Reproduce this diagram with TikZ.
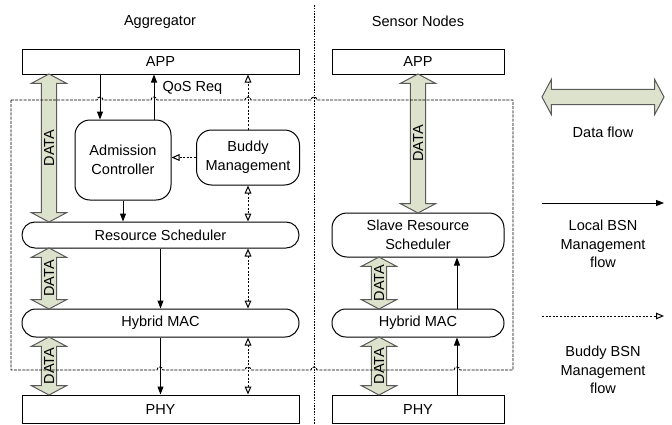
\documentclass[tikz,border=0pt]{standalone}
\usepackage{fontspec}
\setmainfont{Liberation Sans}
\usetikzlibrary{shapes.arrows,arrows.meta}

\definecolor{dataFill}{RGB}{221,226,204}
\definecolor{dataLine}{RGB}{90,90,90}
\newcommand{\lbl}{\fontsize{10.9pt}{14pt}\selectfont}

\tikzset{every picture/.style={line width=0.75pt}}
\tikzset{
  txt/.style={inner sep=0.75pt, font=\lbl, align=center},
  layer/.style={draw, rectangle, inner sep=0pt, font=\lbl, minimum height=19.5pt},
  module/.style={draw, rounded corners=11.25pt, inner sep=0pt, align=center, font=\lbl},
  pill/.style={draw, rounded corners=#1, inner sep=0pt, align=center, font=\lbl},
  dataarrow/.style={shape=double arrow, draw=dataLine, fill=dataFill, inner sep=0pt,
    inner ysep=5.4pt, minimum width=0pt, double arrow head extend=7.3pt,
    double arrow tip angle=124},
  datatext/.style={inner sep=0pt, font=\lbl, rotate=90},
  local/.style={-{Triangle[length=6pt,width=4.5pt]}},
  buddy/.style={dash pattern={on 1.5pt off 1.2pt}, -{Triangle[open,length=6pt,width=5pt]}},
  buddyboth/.style={dash pattern={on 1.5pt off 1.2pt}, {Triangle[open,length=6pt,width=5pt]}-{Triangle[open,length=6pt,width=5pt]}},
  divider/.style={dash pattern={on 1.2pt off 0.9pt}, line width=0.7pt},
  region/.style={dash pattern={on 2.25pt off 0.9pt}, line width=0.7pt}
}

\begin{document}
\begin{tikzpicture}[x=0.75pt,y=0.75pt,yscale=-1,xscale=1]
\useasboundingbox (0,0) rectangle (672,425);

% Titles
\node[txt] (aggTitle) at (160,22) {Aggregator};
\node[txt] (snTitle) at (418,21) {Sensor Nodes};

% Divider
\draw[divider] (314,5) -- (314,425);

% Aggregator stack
\node[layer, minimum width=207.75pt, minimum height=18.75pt] (aApp) at (160.5,61.5) {APP};
\node[module, minimum width=72pt, minimum height=60pt] (aAdm) at (123,160) {Admission\\Controller};
\node[module, minimum width=77.25pt, minimum height=41.25pt] (aBuddy) at (248,157.5) {Buddy\\Management};
\node[pill=9.7pt, minimum width=207.75pt, minimum height=19.5pt] (aRes) at (160.5,235) {Resource Scheduler};
\node[pill=10.4pt, minimum width=207.75pt, minimum height=21pt] (aMac) at (160.5,323) {Hybrid MAC};
\node[layer, minimum width=207.75pt, minimum height=21pt] (aPhy) at (160.5,409) {PHY};

% Sensor node stack
\node[layer, minimum width=129pt, minimum height=18.75pt] (sApp) at (418,61.5) {APP};
\node[pill=11.25pt, minimum width=129pt, minimum height=33pt] (sRes) at (418,235) {Slave Resource\\Scheduler};
\node[pill=10.4pt, minimum width=129pt, minimum height=21pt] (sMac) at (418,323) {Hybrid MAC};
\node[layer, minimum width=129pt, minimum height=21pt] (sPhy) at (418,409) {PHY};

% Data arrows
\node[dataarrow, rotate=90, minimum height=111pt] (d1) at (49,148) {};
\node[dataarrow, rotate=90, minimum height=45.75pt] (d2) at (49,278.5) {};
\node[dataarrow, rotate=90, minimum height=43.5pt] (d3) at (49,366) {};
\node[dataarrow, rotate=90, minimum height=104.25pt] (d4) at (418,143.5) {};
\node[dataarrow, rotate=90, minimum height=39pt] (d5) at (379,283) {};
\node[dataarrow, rotate=90, minimum height=43.5pt] (d6) at (379,366) {};
\foreach \d in {d1,d2,d3,d4,d5,d6}
  \node[datatext] (\d t) at (\d) {DATA};

% BSN region with line jumps
\draw[region] (11,100)
  \foreach \x in {100,154,248,314} { -- (\x-3,100) arc (180:360:3) }
  -- (513,100) -- (513,370)
  \foreach \x in {457,314,248,160} { -- (\x+3,370) arc (0:-180:3) }
  -- (11,370) -- cycle;

% Aggregator flows
\draw[local] ([xshift=-17.25pt]aAdm.north |- aApp.south) -- ([xshift=-17.25pt]aAdm.north);
\draw[local] ([xshift=23.25pt]aAdm.north) -- ([xshift=23.25pt]aAdm.north |- aApp.south);
\node[txt, anchor=west] (qos) at (161,88) {QoS Req};
\draw[buddy] (aBuddy.north) -- (aBuddy.north |- aApp.south);
\draw[buddy] (aBuddy.west) -- (aBuddy.west -| aAdm.east);
\draw[local] (aAdm.south) -- (aAdm.south |- aRes.north);
\draw[buddyboth] (aBuddy.south) -- (aBuddy.south |- aRes.north);
\draw[local] (aRes.south) -- (aMac.north);
\draw[buddyboth] (aRes.south -| aBuddy.south) -- (aMac.north -| aBuddy.south);
\draw[local] (aMac.south) -- (aPhy.north);
\draw[buddyboth] (aMac.south -| aBuddy.south) -- (aPhy.north -| aBuddy.south);

% Sensor node flows
\draw[local] ([xshift=29.25pt]sPhy.north) -- ([xshift=29.25pt]sMac.south);
\draw[local] ([xshift=29.25pt]sMac.north) -- ([xshift=29.25pt]sRes.south);

% Legend
\node[dataarrow, minimum height=91.5pt] (legData) at (603,97) {};
\node[txt] (legDataTxt) at (603,132) {Data flow};
\coordinate (legLocA) at (542,203);
\coordinate (legLocB) at (664,203);
\draw[local] (legLocA) -- (legLocB);
\node[txt] (legLocTxt) at (603,244) {Local BSN\\Management\\flow};
\coordinate (legBudA) at (542,316);
\coordinate (legBudB) at (664,316);
\draw[buddy] (legBudA) -- (legBudB);
\node[txt] (legBudTxt) at (603,370) {Buddy BSN\\Management\\flow};

\end{tikzpicture}
\end{document}
